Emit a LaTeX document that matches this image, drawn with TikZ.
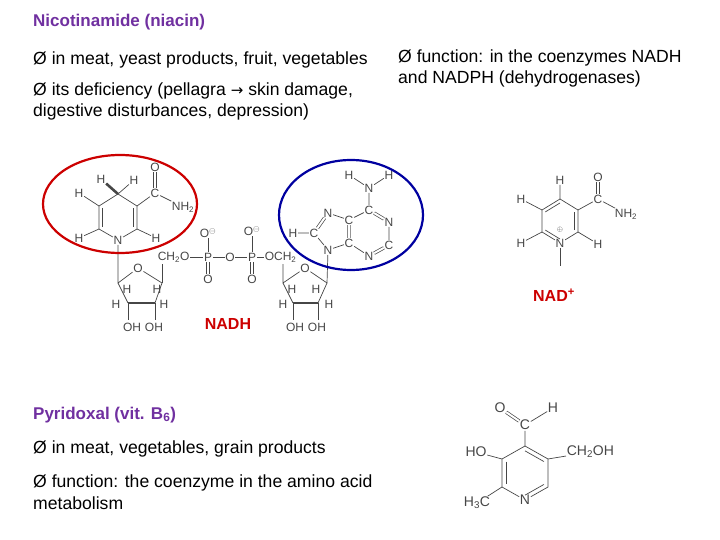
\documentclass[tikz,border=0pt]{standalone}
\usepackage{fontspec}
\setmainfont{Liberation Sans}
\newfontfamily\symfont{DejaVu Sans}
\usetikzlibrary{calc,positioning}
\definecolor{titlepurple}{RGB}{112,48,160}
\definecolor{nadred}{RGB}{204,0,0}
\definecolor{adeblue}{RGB}{0,0,160}
\definecolor{chemgray}{RGB}{70,70,70}
\tikzset{
  txt/.style={anchor=west,inner sep=0pt,font=\fontsize{17.6}{20}\selectfont},
  ttl/.style={txt,text=titlepurple,font=\fontsize{17}{20}\selectfont\bfseries},
  atom/.style={inner sep=0.6pt,text=chemgray,font=\fontsize{12}{13}\selectfont},
  bond/.style={chemgray,line width=0.7pt},
  wedgebond/.style={chemgray,line width=2.6pt},
  lbl/.style={text=nadred,font=\fontsize{16}{18}\selectfont\bfseries}
}
% inner line of a ring double bond
\newcommand{\inbond}[3]{\draw[bond] ($(#1)!0.18!(#3)$) -- ($(#2)!0.18!(#3)$);}
\begin{document}
\begin{tikzpicture}[x=1pt,y=-1pt]
\useasboundingbox (0,0) rectangle (720,540);
% texts
\node[ttl] (nic) at (33,22) {Nicotinamide (niacin)};
\node[txt] (src) at (33,60) {Ø in meat, yeast products, fruit, vegetables};
\node[txt] (def) at (33,91) {Ø its deficiency (pellagra {\symfont\fontsize{15}{18}\selectfont →} skin damage,};
\node[txt] (def2) at (33,112) {digestive disturbances, depression)};
\node[txt] (fun) at (398,58) {Ø function: in the coenzymes NADH};
\node[txt] (fun2) at (398,79) {and NADPH (dehydrogenases)};
\node[ttl] (pyr) at (33,415) {Pyridoxal (vit. B\textsubscript{6})};
\node[txt] (psrc) at (33,449) {Ø in meat, vegetables, grain products};
\node[txt] (pfun) at (33,483) {Ø function: the coenzyme in the amino acid};
\node[txt] (pfun2) at (33,503) {metabolism};

% ---- NADH: dihydronicotinamide ring
\node[atom] (n1) at (118,240) {N};
\coordinate (c2) at (137,229); \coordinate (c3) at (137,206);
\coordinate (c4) at (118,194); \coordinate (c5) at (99,206);
\coordinate (c6) at (99,229); \coordinate (rc) at (118,217);
\draw[bond] (n1) -- (c2) -- (c3) -- (c4) -- (c5) -- (c6) -- (n1);
\inbond{c2}{c3}{rc} \inbond{c5}{c6}{rc}
\node[atom] (h4a) at (101,179) {H};
\node[atom] (h4b) at (134,180) {H};
\node[atom] (h5) at (79,193) {H};
\node[atom] (h6) at (79,238) {H};
\node[atom] (h2) at (156,238) {H};
\draw[wedgebond] (c4) -- (h4a);
\draw[bond] (c4) -- (h4b) (c5) -- (h5) (c6) -- (h6) (c2) -- (h2);
\node[atom] (cam) at (155,193) {C};
\node[atom] (oam) at (155,167) {O};
\node[atom] (nam) at (183,207) {NH\textsubscript{2}};
\draw[bond] (c3) -- (cam) (cam) -- (nam);
\draw[bond,double,double distance=2pt] (cam) -- (oam);
% ribose 1
\coordinate (r1a) at (118,283); \node[atom] (r1o) at (138,268) {O};
\coordinate (r1b) at (162,283); \coordinate (r1c) at (155,303); \coordinate (r1d) at (128,303);
\draw[bond] (n1) -- (r1a) -- (r1o) -- (r1b) -- (r1c) (r1d) -- (r1a);
\draw[wedgebond] (r1d) -- (r1c);
\node[atom] (r1h1) at (127,289) {H}; \node[atom] (r1h2) at (157,289) {H};
\node[atom] (r1h3) at (116,304) {H}; \node[atom] (r1h4) at (164,304) {H};
\node[atom] (r1oh) at (143,327) {OH\,\,OH};
\draw[bond] (r1d) -- (128,320) (r1c) -- (155,320);
% phosphate bridge
\node[atom,anchor=west] (ch2a) at (157,257) {CH\textsubscript{2}O};
\node[atom] (p1) at (208,257) {P};
\node[atom] (ob) at (230,257) {O};
\node[atom] (p2) at (252,257) {P};
\node[atom,anchor=west] (ch2b) at (264,257) {OCH\textsubscript{2}};
\draw[bond] (r1b) -- (162,264);
\draw[bond] (ch2a) -- (p1) -- (ob) -- (p2) -- (ch2b);
\node[atom] (o1m) at (208,233) {O$^{\ominus}$};
\node[atom] (o1d) at (208,279) {O};
\node[atom] (o2m) at (252,231) {O$^{\ominus}$};
\node[atom] (o2d) at (252,279) {O};
\draw[bond] (p1) -- (o1m) (p2) -- (o2m);
\draw[bond,double,double distance=2pt] (p1) -- (o1d) (p2) -- (o2d);
% ribose 2
\coordinate (r2a) at (283,283); \node[atom] (r2o) at (305,268) {O};
\coordinate (r2b) at (327,283); \coordinate (r2c) at (318,303); \coordinate (r2d) at (293,303);
\draw[bond] (283,264) -- (r2a) -- (r2o) -- (r2b) -- (r2c) (r2d) -- (r2a);
\draw[wedgebond] (r2d) -- (r2c);
\node[atom] (r2h1) at (292,289) {H}; \node[atom] (r2h2) at (316,289) {H};
\node[atom] (r2h3) at (283,304) {H}; \node[atom] (r2h4) at (329,304) {H};
\node[atom] (r2oh) at (306,327) {OH\,\,OH};
\draw[bond] (r2d) -- (293,320) (r2c) -- (318,320);
% adenine
\node[atom] (n9) at (328,250) {N};
\node[atom] (c8) at (314,233) {C};
\node[atom] (n7) at (328,213) {N};
\node[atom] (a5) at (349,220) {C};
\node[atom] (a4) at (349,243) {C};
\node[atom] (a6) at (369,210) {C};
\node[atom] (na1) at (389,222) {N};
\node[atom] (a2) at (389,245) {C};
\node[atom] (n3) at (369,256) {N};
\node[atom] (h8) at (293,233) {H};
\node[atom] (n6) at (369,188) {N};
\node[atom] (h6a) at (349,175) {H};
\node[atom] (h6b) at (389,175) {H};
\draw[bond] (n9) -- (r2b) (n9) -- (c8) (n9) -- (a4) (n7) -- (a5) (a5) -- (a6)
  (na1) -- (a2) (n3) -- (a4) (c8) -- (h8) (a6) -- (n6) (n6) -- (h6a) (n6) -- (h6b);
\draw[bond,double,double distance=2pt] (c8) -- (n7) (a5) -- (a4) (a6) -- (na1) (a2) -- (n3);
\draw[nadred,line width=2.2pt] (120,204) ellipse [x radius=77,y radius=49];
\draw[adeblue,line width=2.2pt] (351,215) ellipse [x radius=72,y radius=55];
\node[lbl] (nadh) at (228,324) {NADH};

% ---- NAD+
\node[atom] (m1) at (560,243) {N};
\node[atom,font=\fontsize{7}{8}\selectfont] (plus) at (560,230) {$\oplus$};
\coordinate (m2) at (578,232); \coordinate (m3) at (578,210);
\coordinate (m4) at (560,199); \coordinate (m5) at (542,210);
\coordinate (m6) at (542,232); \coordinate (mc) at (560,221);
\draw[bond] (m1) -- (m2) -- (m3) -- (m4) -- (m5) -- (m6) -- (m1);
\inbond{m2}{m3}{mc} \inbond{m4}{m5}{mc} \inbond{m6}{m1}{mc}
\node[atom] (mh4) at (560,180) {H}; \node[atom] (mh5) at (521,199) {H};
\node[atom] (mh6) at (521,243) {H}; \node[atom] (mh2) at (598,244) {H};
\draw[bond] (m4) -- (mh4) (m5) -- (mh5) (m6) -- (mh6) (m2) -- (mh2);
\node[atom] (mca) at (598,199) {C}; \node[atom] (mo) at (598,177) {O};
\node[atom] (mnh) at (626,214) {NH\textsubscript{2}};
\draw[bond] (m3) -- (mca) -- (mnh);
\draw[bond,double,double distance=2pt] (mca) -- (mo);
\coordinate (mr) at (560,266);
\draw[bond] (m1) -- (mr);
\node[lbl] (nadp) at (554,295) {NAD\textsuperscript{+}};

% ---- pyridoxal
\node[atom,font=\fontsize{14}{16}\selectfont] (pn) at (525,500) {N};
\coordinate (p4) at (525,446); \coordinate (p5) at (548,459);
\coordinate (p6) at (548,487); \coordinate (pc2) at (502,487);
\coordinate (p3) at (502,459); \coordinate (pc) at (525,473);
\draw[bond] (pn) -- (p6) -- (p5) -- (p4) -- (p3) -- (pc2) -- (pn);
\inbond{p4}{p5}{pc} \inbond{p3}{pc2}{pc} \inbond{pn}{p6}{pc}
\node[atom,font=\fontsize{14}{16}\selectfont] (pca) at (525,425) {C};
\node[atom,font=\fontsize{14}{16}\selectfont] (pao) at (500,408) {O};
\node[atom,font=\fontsize{14}{16}\selectfont] (pah) at (553,408) {H};
\node[atom,font=\fontsize{14}{16}\selectfont] (pho) at (476,452) {HO};
\node[atom,font=\fontsize{14}{16}\selectfont,anchor=west] (pch) at (566,452) {CH\textsubscript{2}OH};
\node[atom,font=\fontsize{14}{16}\selectfont] (pme) at (477,503) {H\textsubscript{3}C};
\draw[bond] (p4) -- (pca) -- (pah) (p3) -- (pho) (p5) -- (pch) (pc2) -- (pme);
\draw[bond,double,double distance=2pt] (pca) -- (pao);
\end{tikzpicture}
\end{document}
